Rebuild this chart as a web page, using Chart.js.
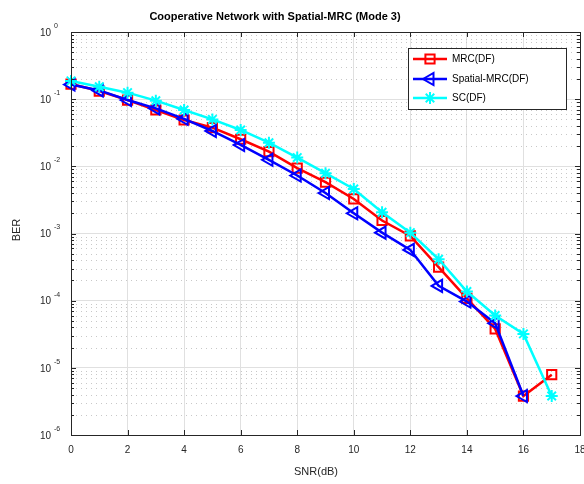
<!DOCTYPE html>
<html>
<head>
<meta charset="utf-8">
<script src="https://cdn.jsdelivr.net/npm/chart.js@4.4.0/dist/chart.umd.min.js"></script>
<style>
  html, body { margin: 0; padding: 0; background: #fff; }
  #wrap { width: 584px; height: 484px; }
</style>
</head>
<body>
<div id="wrap"><canvas id="berChart"></canvas></div>
<script>
// SNR in dB
const snr = [0, 1, 2, 3, 4, 5, 6, 7, 8, 9, 10, 11, 12, 13, 14, 15, 16, 17];
// BER curves
const mrcDF = [0.168, 0.132, 0.097, 0.069, 0.049, 0.0377, 0.0253, 0.0166, 0.0094, 0.0058, 0.00327, 0.00156, 0.00092, 0.000316, 0.000108, 3.8e-5, 3.8e-6, 7.9e-6];
const spatialMrcDF = [0.165, 0.135, 0.097, 0.073, 0.051, 0.0336, 0.0208, 0.0125, 0.0073, 0.0040, 0.0020, 0.00103, 0.00057, 0.000166, 0.000097, 4.6e-5, 3.8e-6];
const scDF = [0.187, 0.153, 0.125, 0.095, 0.069, 0.050, 0.0348, 0.0225, 0.0135, 0.0079, 0.0046, 0.00207, 0.00103, 0.000414, 0.000137, 6.0e-5, 3.2e-5, 3.8e-6];
const seriesNames = ['MRC(DF)', 'Spatial-MRC(DF)', 'SC(DF)'];
const xTicks = [0, 2, 4, 6, 8, 10, 12, 14, 16, 18];
const yExponents = [-6, -5, -4, -3, -2, -1, 0];

const axisColor = '#262626';
const fontFamily = 'Arial, "Liberation Sans", Helvetica, sans-serif';

const toPoints = (ys) => ys.map((v, i) => ({ x: snr[i], y: v }));

const styles = [
    { color: '#ff0000', pointStyle: 'rect', rotation: 0, radius: 6.5 },
    { color: '#0000ff', pointStyle: 'triangle', rotation: -90, radius: 7 },
    { color: '#00ffff', pointStyle: 'star', rotation: 0, radius: 6 }
];

// later series are drawn on top, like the plot
const makeDataset = (label, ys, st, order) => ({
    label: label,
    data: toPoints(ys),
    order: order,
    borderColor: st.color,
    backgroundColor: 'rgba(0,0,0,0)',
    borderWidth: 2.5,
    tension: 0,
    pointStyle: st.pointStyle,
    pointRotation: st.rotation,
    pointRadius: st.radius,
    pointBorderWidth: 2,
    pointBorderColor: st.color,
    pointBackgroundColor: 'rgba(0,0,0,0)',
    clip: false
});

function hline(ctx, x1, x2, y) { ctx.beginPath(); ctx.moveTo(x1, y); ctx.lineTo(x2, y); ctx.stroke(); }
function vline(ctx, x, y1, y2) { ctx.beginPath(); ctx.moveTo(x, y1); ctx.lineTo(x, y2); ctx.stroke(); }

// Minor dotted grid, box, inward ticks, superscript labels, titles and legend
const decorPlugin = {
    id: 'decor',
    beforeDatasetsDraw(chart) {
        const { ctx, chartArea: a, scales: { y } } = chart;
        ctx.save();
        ctx.strokeStyle = '#c8c8c8';
        ctx.lineWidth = 1;
        ctx.setLineDash([1, 4]);
        for (let e = -6; e < 0; e++) {
            for (let m = 2; m <= 9; m++) {
                const py = Math.round(y.getPixelForValue(m * Math.pow(10, e))) + 0.5;
                hline(ctx, a.left, a.right, py);
            }
        }
        ctx.restore();
    },
    afterDraw(chart) {
        const { ctx, chartArea: a, scales: { x, y } } = chart;
        ctx.save();
        // box
        ctx.strokeStyle = axisColor;
        ctx.lineWidth = 1;
        ctx.strokeRect(Math.round(a.left) + 0.5, Math.round(a.top) + 0.5, Math.round(a.right - a.left), Math.round(a.bottom - a.top));

        // x ticks (bottom and top, inward)
        xTicks.forEach(v => {
            const px = Math.round(x.getPixelForValue(v)) + 0.5;
            vline(ctx, px, a.bottom, a.bottom - 5);
            vline(ctx, px, a.top, a.top + 5);
        });
        // y ticks, major and minor (left and right, inward)
        for (let e = -6; e <= 0; e++) {
            const py = Math.round(y.getPixelForValue(Math.pow(10, e))) + 0.5;
            hline(ctx, a.left, a.left + 5, py);
            hline(ctx, a.right, a.right - 5, py);
            if (e === 0) continue;
            for (let m = 2; m <= 9; m++) {
                const pm = Math.round(y.getPixelForValue(m * Math.pow(10, e))) + 0.5;
                hline(ctx, a.left, a.left + 3, pm);
                hline(ctx, a.right, a.right - 3, pm);
            }
        }

        // y tick labels as 10^n
        ctx.fillStyle = axisColor;
        yExponents.forEach(e => {
            const py = y.getPixelForValue(Math.pow(10, e));
            ctx.font = '10px ' + fontFamily;
            ctx.textAlign = 'right';
            ctx.textBaseline = 'middle';
            ctx.fillText('10', 51, py + 1);
            ctx.font = '7px ' + fontFamily;
            ctx.textAlign = 'left';
            ctx.fillText(String(e), 54, py - 6);
        });

        // titles
        ctx.fillStyle = '#000';
        ctx.font = 'bold 11px ' + fontFamily;
        ctx.textAlign = 'center';
        ctx.textBaseline = 'middle';
        ctx.fillText('Cooperative Network with Spatial-MRC (Mode 3)', 275, 17);
        ctx.fillStyle = axisColor;
        ctx.font = '11px ' + fontFamily;
        ctx.fillText('SNR(dB)', 316, 472);
        ctx.save();
        ctx.translate(17, 230);
        ctx.rotate(-Math.PI / 2);
        ctx.fillText('BER', 0, 0);
        ctx.restore();

        // legend
        const lx = 408, ly = 48, lw = 158, lh = 61;
        ctx.fillStyle = '#fff';
        ctx.fillRect(lx, ly, lw, lh);
        ctx.strokeStyle = axisColor;
        ctx.strokeRect(lx + 0.5, ly + 0.5, lw, lh);
        const rows = [59, 79, 98];
        seriesNames.forEach((name, i) => {
            const ry = rows[i];
            const st = styles[i];
            ctx.strokeStyle = st.color;
            ctx.lineWidth = 2.5;
            hline(ctx, 413, 447, ry);
            ctx.lineWidth = 2;
            ctx.fillStyle = 'rgba(0,0,0,0)';
            Chart.helpers.drawPoint(ctx, { pointStyle: st.pointStyle, rotation: st.rotation, radius: st.radius, borderWidth: 2 }, 430, ry);
            ctx.fillStyle = '#000';
            ctx.font = '10px ' + fontFamily;
            ctx.textAlign = 'left';
            ctx.textBaseline = 'middle';
            ctx.fillText(name, 452, ry);
        });
        ctx.restore();
    }
};

new Chart(document.getElementById('berChart').getContext('2d'), {
    type: 'line',
    data: {
        datasets: [
            makeDataset(seriesNames[0], mrcDF, styles[0], 2),
            makeDataset(seriesNames[1], spatialMrcDF, styles[1], 1),
            makeDataset(seriesNames[2], scDF, styles[2], 0)
        ]
    },
    options: {
        responsive: true,
        maintainAspectRatio: false,
        animation: false,
        layout: { autoPadding: false, padding: { top: 32, right: 4, left: 0, bottom: 0 } },
        plugins: { legend: { display: false }, title: { display: false }, tooltip: { enabled: false } },
        scales: {
            x: {
                type: 'linear',
                min: 0,
                max: 18,
                afterBuildTicks: (scale) => { scale.ticks = xTicks.map(v => ({ value: v })); },
                afterFit: (scale) => {
                    scale.height = 49;
                    scale.paddingLeft = 0;
                    scale.paddingRight = 0;
                },
                grid: { color: '#e0e0e0', drawTicks: false },
                border: { display: false },
                ticks: {
                    color: axisColor,
                    font: { size: 10, family: fontFamily },
                    padding: 9,
                    maxRotation: 0
                }
            },
            y: {
                type: 'logarithmic',
                min: 1e-6,
                max: 1,
                afterBuildTicks: (scale) => { scale.ticks = yExponents.map(e => ({ value: Math.pow(10, e) })); },
                afterFit: (scale) => { scale.width = 71; },
                grid: { color: '#e0e0e0', drawTicks: false },
                border: { display: false },
                ticks: { display: false }
            }
        }
    },
    plugins: [decorPlugin]
});
</script>
</body>
</html>
